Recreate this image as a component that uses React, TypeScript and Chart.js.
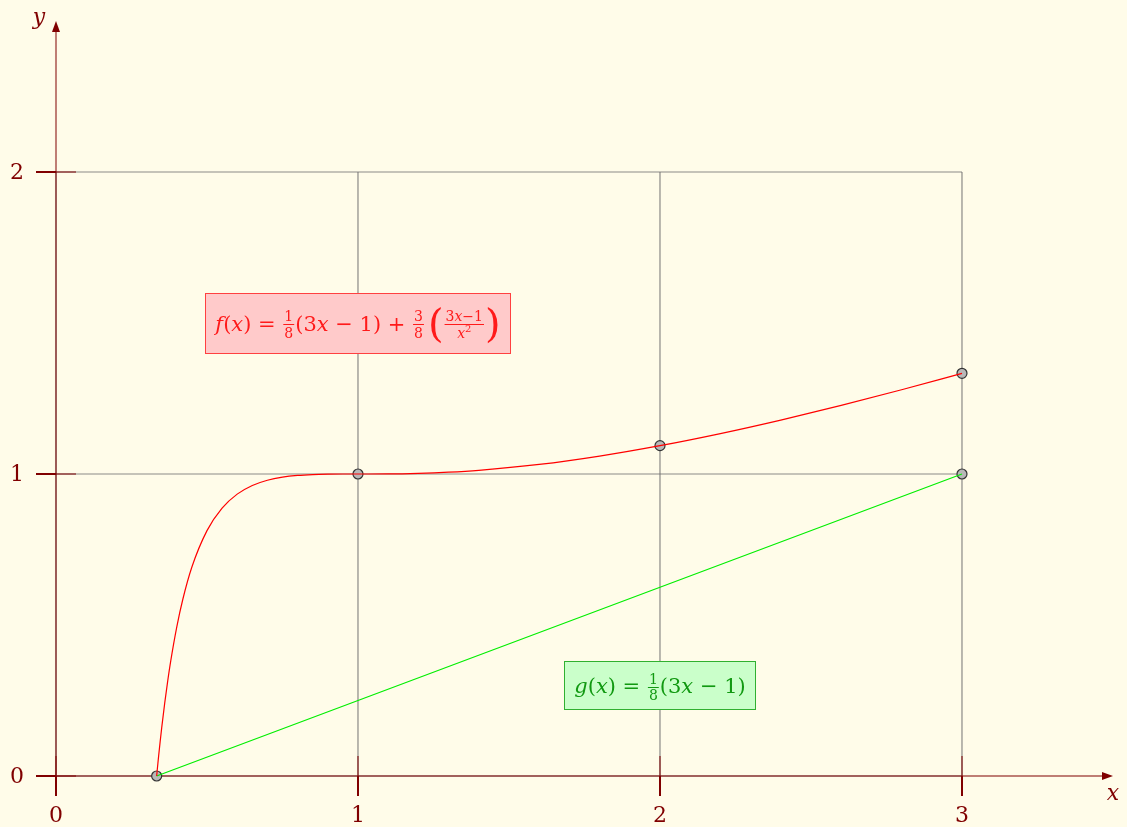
import React, { useEffect, useRef } from "react";
import { Chart, registerables } from "chart.js";
Chart.register(...registerables);

const W = 1127;
const H = 827;

// f(x) = 1/8(3x-1) + 3/8((3x-1)/x^2)
const fX = [0.33333, 0.335, 0.3375, 0.34, 0.345, 0.35, 0.36, 0.37, 0.38, 0.4, 0.42, 0.45, 0.5, 0.55, 0.6, 0.65, 0.7, 0.75, 0.8, 0.85, 0.9, 0.95, 1.0, 1.1, 1.2, 1.3, 1.4, 1.6, 1.8, 2.0, 2.2, 2.4, 2.6, 2.8, 3.0];
const fY = [0, 0.0173, 0.0427, 0.0674, 0.1146, 0.1593, 0.2415, 0.3151, 0.3812, 0.4938, 0.5852, 0.6919, 0.8125, 0.887, 0.9333, 0.962, 0.9793, 0.9896, 0.9953, 0.9982, 0.9995, 0.99995, 1.0, 1.0002, 1.0021, 1.006, 1.0122, 1.0316, 1.0593, 1.0938, 1.1339, 1.1786, 1.2272, 1.279, 1.3333];

// g(x) = 1/8(3x-1)
const gX = [0.33333, 3.0];
const gY = [0, 1.0];

// highlighted points
const markX = [0.33333, 1, 2, 3, 3];
const markY = [0, 1, 1.0938, 1.3333, 1];

const xTicks = [0, 1, 2, 3];
const yTicks = [0, 1, 2];
const xTickLabels = ["0", "1", "2", "3"];
const yTickLabels = ["0", "1", "2"];

const SERIF = '"DejaVu Serif", serif';

type Tok =
  | { k: "t"; s: string; it?: boolean; sz?: number; dy?: number }
  | { k: "f"; n: Tok[]; d: Tok[]; sz: number }
  | { k: "p"; s: string; sz: number }
  | { k: "s"; w: number };

const fnt = (sz: number, it?: boolean) => `${it ? "italic " : ""}${sz}px ${SERIF}`;

function measure(ctx: CanvasRenderingContext2D, toks: Tok[], sz: number): number {
  let w = 0;
  for (const t of toks) {
    if (t.k === "t") {
      ctx.font = fnt(t.sz ?? sz, t.it);
      w += ctx.measureText(t.s).width;
    } else if (t.k === "f") {
      w += Math.max(measure(ctx, t.n, t.sz), measure(ctx, t.d, t.sz)) + 4;
    } else if (t.k === "p") {
      ctx.font = fnt(t.sz);
      w += ctx.measureText(t.s).width;
    } else {
      w += t.w;
    }
  }
  return w;
}

function drawToks(ctx: CanvasRenderingContext2D, toks: Tok[], x0: number, base: number, sz: number) {
  let x = x0;
  for (const t of toks) {
    if (t.k === "t") {
      ctx.font = fnt(t.sz ?? sz, t.it);
      ctx.fillText(t.s, x, base + (t.dy ?? 0));
      x += ctx.measureText(t.s).width;
    } else if (t.k === "f") {
      const wn = measure(ctx, t.n, t.sz);
      const wd = measure(ctx, t.d, t.sz);
      const w = Math.max(wn, wd) + 4;
      const axis = base - sz * 0.3;
      drawToks(ctx, t.n, x + (w - wn) / 2, axis - 3, t.sz);
      drawToks(ctx, t.d, x + (w - wd) / 2, axis + 3 + t.sz * 0.74, t.sz);
      ctx.save();
      ctx.strokeStyle = ctx.fillStyle as string;
      ctx.lineWidth = 1;
      ctx.beginPath();
      ctx.moveTo(x + 1, Math.round(axis) + 0.5);
      ctx.lineTo(x + w - 1, Math.round(axis) + 0.5);
      ctx.stroke();
      ctx.restore();
      x += w;
    } else if (t.k === "p") {
      ctx.font = fnt(t.sz);
      const axis = base - sz * 0.3;
      ctx.fillText(t.s, x, axis + t.sz * 0.31);
      x += ctx.measureText(t.s).width;
    } else {
      x += t.w;
    }
  }
}

const MS = 21;
const FS = 14;
const fLabel: Tok[] = [
  { k: "t", s: "f", it: true },
  { k: "t", s: "(" },
  { k: "t", s: "x", it: true },
  { k: "t", s: ") = " },
  { k: "f", n: [{ k: "t", s: "1" }], d: [{ k: "t", s: "8" }], sz: FS },
  { k: "t", s: "(3" },
  { k: "t", s: "x", it: true },
  { k: "t", s: " − 1) + " },
  { k: "f", n: [{ k: "t", s: "3" }], d: [{ k: "t", s: "8" }], sz: FS },
  { k: "s", w: 3 },
  { k: "p", s: "(", sz: 40 },
  {
    k: "f",
    n: [{ k: "t", s: "3" }, { k: "t", s: "x", it: true }, { k: "t", s: "−1" }],
    d: [{ k: "t", s: "x", it: true }, { k: "t", s: "2", sz: 10, dy: -6 }],
    sz: FS,
  },
  { k: "p", s: ")", sz: 40 },
];
const gLabel: Tok[] = [
  { k: "t", s: "g", it: true },
  { k: "t", s: "(" },
  { k: "t", s: "x", it: true },
  { k: "t", s: ") = " },
  { k: "f", n: [{ k: "t", s: "1" }], d: [{ k: "t", s: "8" }], sz: FS },
  { k: "t", s: "(3" },
  { k: "t", s: "x", it: true },
  { k: "t", s: " − 1)" },
];

const AXIS = "#800000";
const AXIS_LIGHT = "rgba(128,0,0,0.5)";
const GRID = "rgba(110,110,110,0.8)";

function labelBox(
  chart: any,
  toks: Tok[],
  cxv: number,
  cyv: number,
  h: number,
  fill: string,
  stroke: string,
  color: string
) {
  const ctx: CanvasRenderingContext2D = chart.ctx;
  const xs = chart.scales.x;
  const ys = chart.scales.y;
  const cx = xs.getPixelForValue(cxv);
  const cy = ys.getPixelForValue(cyv);
  const tw = measure(ctx, toks, MS);
  const bw = tw + 20;
  ctx.save();
  ctx.fillStyle = fill;
  ctx.strokeStyle = stroke;
  ctx.lineWidth = 1;
  const l = Math.round(cx - bw / 2) + 0.5;
  const t = Math.round(cy - h / 2) + 0.5;
  ctx.fillRect(l, t, Math.round(bw), h);
  ctx.strokeRect(l, t, Math.round(bw), h);
  ctx.fillStyle = color;
  ctx.textBaseline = "alphabetic";
  ctx.textAlign = "left";
  drawToks(ctx, toks, cx - tw / 2, cy + MS * 0.36, MS);
  ctx.restore();
}

const decor = {
  id: "decor",
  beforeDraw(chart: any) {
    const ctx = chart.ctx;
    ctx.save();
    ctx.fillStyle = "#fffce9";
    ctx.fillRect(0, 0, chart.width, chart.height);
    ctx.restore();
  },
  beforeDatasetsDraw(chart: any) {
    const ctx: CanvasRenderingContext2D = chart.ctx;
    const xs = chart.scales.x;
    const ys = chart.scales.y;
    const px = (v: number) => xs.getPixelForValue(v);
    const py = (v: number) => ys.getPixelForValue(v);
    const gx0 = xTicks[0];
    const gx1 = xTicks[xTicks.length - 1];
    const gy0 = yTicks[0];
    const gy1 = yTicks[yTicks.length - 1];
    ctx.save();
    // grid
    ctx.strokeStyle = GRID;
    ctx.lineWidth = 1.2;
    for (const v of xTicks) {
      ctx.beginPath();
      ctx.moveTo(px(v), py(gy0));
      ctx.lineTo(px(v), py(gy1));
      ctx.stroke();
    }
    for (const v of yTicks) {
      ctx.beginPath();
      ctx.moveTo(px(gx0), py(v));
      ctx.lineTo(px(gx1), py(v));
      ctx.stroke();
    }
    // axes
    const xEnd = px(3.5);
    const yEnd = py(2.5);
    ctx.strokeStyle = AXIS_LIGHT;
    ctx.lineWidth = 2;
    ctx.beginPath();
    ctx.moveTo(px(0), py(0));
    ctx.lineTo(xEnd - 8, py(0));
    ctx.moveTo(px(0), py(0));
    ctx.lineTo(px(0), yEnd + 8);
    ctx.stroke();
    ctx.fillStyle = AXIS;
    ctx.beginPath();
    ctx.moveTo(xEnd, py(0));
    ctx.lineTo(xEnd - 11, py(0) - 4);
    ctx.lineTo(xEnd - 11, py(0) + 4);
    ctx.closePath();
    ctx.fill();
    ctx.beginPath();
    ctx.moveTo(px(0), yEnd);
    ctx.lineTo(px(0) - 4, yEnd + 11);
    ctx.lineTo(px(0) + 4, yEnd + 11);
    ctx.closePath();
    ctx.fill();
    // ticks
    const T = 20;
    for (const v of xTicks) {
      const x = px(v);
      const y = py(0);
      ctx.strokeStyle = AXIS_LIGHT;
      ctx.beginPath();
      ctx.moveTo(x, y - T);
      ctx.lineTo(x, y);
      ctx.stroke();
      ctx.strokeStyle = AXIS;
      ctx.beginPath();
      ctx.moveTo(x, y);
      ctx.lineTo(x, y + T);
      ctx.stroke();
    }
    for (const v of yTicks) {
      const x = px(0);
      const y = py(v);
      ctx.strokeStyle = AXIS_LIGHT;
      ctx.beginPath();
      ctx.moveTo(x, y);
      ctx.lineTo(x + T, y);
      ctx.stroke();
      ctx.strokeStyle = AXIS;
      ctx.beginPath();
      ctx.moveTo(x - T, y);
      ctx.lineTo(x, y);
      ctx.stroke();
    }
    // tick labels
    ctx.fillStyle = AXIS;
    ctx.font = `22px ${SERIF}`;
    ctx.textAlign = "center";
    ctx.textBaseline = "middle";
    xTicks.forEach((v, i) => ctx.fillText(xTickLabels[i], px(v), py(0) + 40));
    yTicks.forEach((v, i) => ctx.fillText(yTickLabels[i], px(0) - 39, py(v) + 1));
    ctx.font = `italic 22px ${SERIF}`;
    ctx.fillText("x", xEnd, py(0) + 18);
    ctx.fillText("y", px(0) - 17, yEnd - 3);
    ctx.restore();

    labelBox(chart, fLabel, 1, 1.5, 60, "#ffcaca", "#ff4040", "#ff1a1a");
    labelBox(chart, gLabel, 2, 0.3, 48, "#caffca", "#30b030", "#119911");
  },
};

export default function App() {
  const ref = useRef<HTMLCanvasElement>(null);
  useEffect(() => {
    const chart = new Chart(ref.current as HTMLCanvasElement, {
      type: "scatter",
      data: {
        datasets: [
          {
            label: "f",
            data: fX.map((x, i) => ({ x, y: fY[i] })),
            showLine: true,
            borderColor: "#ff0000",
            borderWidth: 1.2,
            pointRadius: 0,
            cubicInterpolationMode: "monotone",
            fill: false,
          } as any,
          {
            label: "g",
            data: gX.map((x, i) => ({ x, y: gY[i] })),
            showLine: true,
            borderColor: "#00ee00",
            borderWidth: 1.2,
            pointRadius: 0,
            fill: false,
          },
          {
            label: "points",
            data: markX.map((x, i) => ({ x, y: markY[i] })),
            showLine: false,
            pointRadius: 5,
            pointBackgroundColor: "#b8b8b8",
            pointBorderColor: "#333333",
            pointBorderWidth: 1.2,
          },
        ],
      },
      options: {
        responsive: false,
        animation: false,
        events: [],
        devicePixelRatio: 1,
        layout: { padding: 0, autoPadding: false },
        scales: {
          x: { type: "linear", min: -0.1854, max: 3.5464, display: false },
          y: { type: "linear", min: -0.1689, max: 2.5695, display: false },
        },
        plugins: { legend: { display: false }, tooltip: { enabled: false } },
      },
      plugins: [decor],
    });
    return () => chart.destroy();
  }, []);
  return (
    <div style={{ position: "fixed", left: 0, top: 0, width: W, height: H }}>
      <canvas ref={ref} width={W} height={H} style={{ display: "block", width: W, height: H }} />
    </div>
  );
}
